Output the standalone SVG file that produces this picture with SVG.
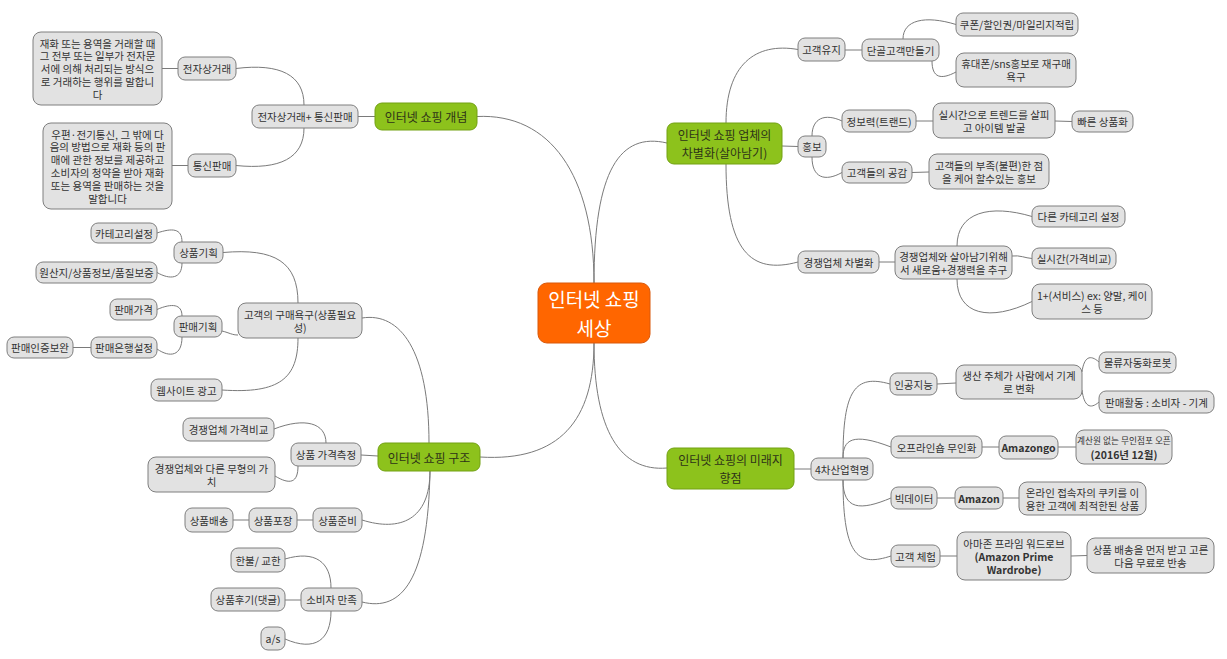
<svg xmlns="http://www.w3.org/2000/svg" width="1227" height="659" viewBox="0 0 1227 659">
<style>
.n rect{fill:#e2e2e2;stroke:#7f7f7f;stroke-width:1}
.g rect{fill:#8dc21c;stroke:#72a113;stroke-width:1}
.c rect{fill:#ff6600;stroke:#d9580a;stroke-width:1}
text{font-family:"Noto Sans CJK KR","Noto Sans",sans-serif;text-anchor:middle;dominant-baseline:central}
.n text{font-size:10.5px;fill:#333}
.g text{font-size:12px;fill:#2e3318}
.c text{font-size:19px;fill:#ffffff}
.b{font-weight:bold}
.s{font-size:8.7px !important}
#links path{fill:none;stroke:#7a7a7a;stroke-width:1}
</style>
<rect width="1227" height="659" fill="#ffffff"/>
<g id="links">
<path d="M594,283 C594,175 550,113 477,116.5"/>
<path d="M594,283 C594,170 620,132 667,143"/>
<path d="M594,343 C594,420 560,462 480,457"/>
<path d="M594,343 C594,430 620,472 667,468"/>
<path d="M358,116.5 L375,116.5"/>
<path d="M304,105 C304,75 280,63 236,68.5"/>
<path d="M304,128 C304,158 280,170 236,165.5"/>
<path d="M178,68.5 L162,68.5"/>
<path d="M188,165.5 L172,165.5"/>
<path d="M362,318 C400,312 429,350 429,443"/>
<path d="M298,303 C298,262 275,248 223,252.5"/>
<path d="M222,331 C230,333 232,335 238,335"/>
<path d="M298,338 C298,378 280,394 222,390"/>
<path d="M182,242 C182,228 172,228 157,233"/>
<path d="M182,263 C182,279 170,280 157,272.5"/>
<path d="M182,316 C182,304 172,303 157,309.5"/>
<path d="M182,337 C182,356 170,358 157,349"/>
<path d="M91,347.5 L73,347.5"/>
<path d="M361,455 L378,456"/>
<path d="M326,443 C326,423 305,417 274,429"/>
<path d="M298,466 C298,483 290,485 275,476"/>
<path d="M430,471 C430,520 400,532 362,520"/>
<path d="M430,471 C428,580 402,612 362,602"/>
<path d="M313,520 L297,520"/>
<path d="M249,520 L233,520"/>
<path d="M331,588 C331,562 315,550 285,559"/>
<path d="M301,600 L285,600"/>
<path d="M331,611 C331,640 315,652 285,639"/>
<path d="M726,123 C726,65 755,42 798,49.5"/>
<path d="M782,146 L798,146.5"/>
<path d="M726,164 C726,250 750,275 798,262"/>
<path d="M845,50 L862,50"/>
<path d="M903,39 C903,20 925,15 956,24.5"/>
<path d="M932,61 C932,78 941,80 956,72"/>
<path d="M812,136 C812,118 825,113 842,121"/>
<path d="M812,157 C812,178 825,182 842,172.5"/>
<path d="M916,121 L933,121"/>
<path d="M1055,121 L1072,121.5"/>
<path d="M912,172.5 L929,172"/>
<path d="M879,262 L895,262"/>
<path d="M957,246 C957,212 990,204 1032,216.5"/>
<path d="M1012,256 C1020,255 1025,258 1032,258.5"/>
<path d="M957,279 C957,315 990,322 1032,301.5"/>
<path d="M794,469 L811,469"/>
<path d="M843,458 C843,390 855,374 890,384"/>
<path d="M843,458 C843,440 852,432 891,447"/>
<path d="M843,480 C843,510 860,511 891,498"/>
<path d="M843,480 C843,560 860,566 891,556"/>
<path d="M937,384 L956,383"/>
<path d="M1082,372 C1084,357 1090,354 1099,362"/>
<path d="M1082,390 C1084,406 1090,410 1099,402"/>
<path d="M982,447 L999,447"/>
<path d="M1058,447 L1076,447"/>
<path d="M937,498 L955,498"/>
<path d="M1003,498 L1019,498"/>
<path d="M940,556 L957,556"/>
<path d="M1071,556 L1087,555.5"/>
</g>
<g id="center" class="c"><rect x="538" y="283" width="112" height="60" rx="9"/><text x="594" y="298.5">인터넷 쇼핑</text><text x="594" y="327.5">세상</text></g>
<g id="b1" class="g"><rect x="375" y="103" width="102" height="27" rx="7"/><text x="426" y="116.5">인터넷 쇼핑 개념</text></g>
<g id="b2" class="g"><rect x="378" y="443" width="102" height="28" rx="7"/><text x="429" y="457">인터넷 쇼핑 구조</text></g>
<g id="b3" class="g"><rect x="667" y="123" width="115" height="41" rx="7"/><text x="724.5" y="134.5">인터넷 쇼핑 업체의</text><text x="724.5" y="152.5">차별화(살아남기)</text></g>
<g id="b4" class="g"><rect x="667" y="448" width="127" height="41" rx="7"/><text x="730.5" y="459.5">인터넷 쇼핑의 미래지</text><text x="730.5" y="477.5">향점</text></g>
<g id="n1" class="n"><rect x="33" y="32" width="129" height="73" rx="8"/><text x="97.5" y="43">재화 또는 용역을 거래할 때</text><text x="97.5" y="55.8">그 전부 또는 일부가 전자문</text><text x="97.5" y="68.5">서에 의해 처리되는 방식으</text><text x="97.5" y="81.3">로 거래하는 행위를 말합니</text><text x="97.5" y="94">다</text></g>
<g id="n2" class="n"><rect x="178" y="57" width="58" height="23" rx="7"/><text x="207" y="68.5">전자상거래</text></g>
<g id="n3" class="n"><rect x="252" y="105" width="106" height="23" rx="7"/><text x="305" y="116.5">전자상거래+ 통신판매</text></g>
<g id="n4" class="n"><rect x="188" y="154" width="48" height="23" rx="7"/><text x="212" y="165.5">통신판매</text></g>
<g id="n5" class="n"><rect x="43" y="123" width="129" height="86" rx="8"/><text x="107.5" y="134">우편·전기통신, 그 밖에 다</text><text x="107.5" y="146.8">음의 방법으로 재화 등의 판</text><text x="107.5" y="159.6">매에 관한 정보를 제공하고</text><text x="107.5" y="172.4">소비자의 청약을 받아 재화</text><text x="107.5" y="185.2">또는 용역을 판매하는 것을</text><text x="107.5" y="198">말합니다</text></g>
<g id="n7" class="n"><rect x="91" y="223" width="66" height="20" rx="7"/><text x="124" y="233">카테고리설정</text></g>
<g id="n8" class="n"><rect x="174" y="242" width="49" height="21" rx="7"/><text x="198.5" y="252.5">상품기획</text></g>
<g id="n9" class="n"><rect x="36" y="262" width="121" height="21" rx="7"/><text x="96.5" y="272.5">원산지/상품정보/품질보증</text></g>
<g id="n10" class="n"><rect x="110" y="299" width="47" height="21" rx="7"/><text x="133.5" y="309.5">판매가격</text></g>
<g id="n11" class="n"><rect x="174" y="316" width="48" height="21" rx="7"/><text x="198" y="326.5">판매기획</text></g>
<g id="n12" class="n"><rect x="91" y="337" width="66" height="21" rx="7"/><text x="124" y="347.5">판매은행설정</text></g>
<g id="n13" class="n"><rect x="7" y="337" width="66" height="21" rx="7"/><text x="40" y="347.5">판매인증보완</text></g>
<g id="n14" class="n"><rect x="151" y="379" width="71" height="22" rx="7"/><text x="186.5" y="390">웹사이트 광고</text></g>
<g id="n15" class="n"><rect x="238" y="303" width="124" height="35" rx="8"/><text x="300" y="314">고객의 구매욕구(상품필요</text><text x="300" y="327">성)</text></g>
<g id="n16" class="n"><rect x="183" y="418" width="91" height="23" rx="7"/><text x="228.5" y="429.5">경쟁업체 가격비교</text></g>
<g id="n17" class="n"><rect x="291" y="443" width="70" height="23" rx="7"/><text x="326" y="454.5">상품 가격측정</text></g>
<g id="n18" class="n"><rect x="148" y="457" width="127" height="35" rx="8"/><text x="211.5" y="468">경쟁업체와 다른 무형의 가</text><text x="211.5" y="481">치</text></g>
<g id="n19" class="n"><rect x="313" y="508" width="49" height="24" rx="7"/><text x="337.5" y="520">상품준비</text></g>
<g id="n20" class="n"><rect x="249" y="508" width="48" height="24" rx="7"/><text x="273" y="520">상품포장</text></g>
<g id="n21" class="n"><rect x="185" y="508" width="48" height="24" rx="7"/><text x="209" y="520">상품배송</text></g>
<g id="n22" class="n"><rect x="231" y="548" width="54" height="24" rx="7"/><text x="258" y="560">한불/ 교한</text></g>
<g id="n23" class="n"><rect x="211" y="588" width="74" height="23" rx="7"/><text x="248" y="599.5">상품후기(댓글)</text></g>
<g id="n24" class="n"><rect x="301" y="588" width="61" height="23" rx="7"/><text x="331.5" y="599.5">소비자 만족</text></g>
<g id="n25" class="n"><rect x="261" y="627" width="24" height="23" rx="7"/><text x="273" y="638.5">a/s</text></g>
<g id="n28" class="n"><rect x="798" y="38" width="47" height="23" rx="7"/><text x="821.5" y="49.5">고객유지</text></g>
<g id="n29" class="n"><rect x="862" y="39" width="77" height="22" rx="7"/><text x="900.5" y="50">단골고객만들기</text></g>
<g id="n30" class="n"><rect x="956" y="13" width="122" height="23" rx="7"/><text x="1017" y="24.5">쿠폰/할인권/마일리지적립</text></g>
<g id="n31" class="n"><rect x="956" y="53" width="120" height="34" rx="8"/><text x="1016" y="63.5">휴대폰/sns홍보로 재구매</text><text x="1016" y="76.5">욕구</text></g>
<g id="n32" class="n"><rect x="798" y="136" width="28" height="21" rx="7"/><text x="812" y="146.5">홍보</text></g>
<g id="n33" class="n"><rect x="842" y="110" width="74" height="22" rx="7"/><text x="879" y="121">정보력(트랜드)</text></g>
<g id="n34" class="n"><rect x="933" y="103" width="122" height="35" rx="8"/><text x="994" y="114">실시간으로 트렌드를 살피</text><text x="994" y="127">고 아이템 발굴</text></g>
<g id="n35" class="n"><rect x="1072" y="111" width="61" height="21" rx="7"/><text x="1102.5" y="121.5">빠른 상품화</text></g>
<g id="n36" class="n"><rect x="842" y="162" width="70" height="21" rx="7"/><text x="877" y="172.5">고객들의 공감</text></g>
<g id="n37" class="n"><rect x="929" y="154" width="120" height="35" rx="8"/><text x="989" y="165">고객들의 부족(불편)한 점</text><text x="989" y="178">을 케어 할수있는 홍보</text></g>
<g id="n38" class="n"><rect x="798" y="251" width="81" height="22" rx="7"/><text x="838.5" y="262">경쟁업체 차별화</text></g>
<g id="n39" class="n"><rect x="895" y="246" width="117" height="33" rx="8"/><text x="953.5" y="256">경쟁업체와 살아남기위해</text><text x="953.5" y="269">서 새로움+경쟁력을 추구</text></g>
<g id="n40" class="n"><rect x="1032" y="206" width="93" height="21" rx="7"/><text x="1078.5" y="216.5">다른 카테고리 설정</text></g>
<g id="n41" class="n"><rect x="1032" y="248" width="84" height="21" rx="7"/><text x="1074" y="258.5">실시간(가격비교)</text></g>
<g id="n42" class="n"><rect x="1032" y="284" width="120" height="35" rx="8"/><text x="1092" y="295">1+(서비스) ex: 양말, 케이</text><text x="1092" y="308">스 등</text></g>
<g id="n44" class="n"><rect x="811" y="458" width="62" height="22" rx="7"/><text x="842" y="469">4차산업혁명</text></g>
<g id="n45" class="n"><rect x="890" y="373" width="47" height="22" rx="7"/><text x="913.5" y="384">인공지능</text></g>
<g id="n46" class="n"><rect x="956" y="365" width="126" height="34" rx="8"/><text x="1019" y="375.5">생산 주체가 사람에서 기계</text><text x="1019" y="388.5">로 변화</text></g>
<g id="n47" class="n"><rect x="1099" y="352" width="77" height="21" rx="7"/><text x="1137.5" y="362.5">물류자동화로봇</text></g>
<g id="n48" class="n"><rect x="1099" y="391" width="115" height="22" rx="7"/><text x="1156.5" y="402">판매활동 : 소비자 - 기계</text></g>
<g id="n49" class="n"><rect x="891" y="436" width="91" height="22" rx="7"/><text x="936.5" y="447">오프라인숍 무인화</text></g>
<g id="n50" class="n"><rect x="999" y="436" width="59" height="23" rx="7"/><text class="b" x="1028.5" y="447.5">Amazongo</text></g>
<g id="n51" class="n"><rect x="1076" y="430" width="96" height="34" rx="8"/><text class="s" x="1124" y="440.5">계산원 없는 무인점포 오픈</text><text class="b" x="1124" y="454">(2016년 12월)</text></g>
<g id="n52" class="n"><rect x="891" y="487" width="46" height="22" rx="7"/><text x="914" y="498">빅데이터</text></g>
<g id="n53" class="n"><rect x="955" y="487" width="48" height="22" rx="7"/><text class="b" x="979" y="498">Amazon</text></g>
<g id="n54" class="n"><rect x="1019" y="482" width="127" height="33" rx="8"/><text x="1082.5" y="492">온라인 접속자의 쿠키를 이</text><text x="1082.5" y="505">용한 고객에 최적한된 상품</text></g>
<g id="n55" class="n"><rect x="891" y="545" width="49" height="22" rx="7"/><text x="915.5" y="556">고객 체험</text></g>
<g id="n56" class="n"><rect x="957" y="532" width="114" height="48" rx="8"/><text x="1014" y="543">아마존 프라임 워드로브</text><text class="b" x="1014" y="556">(Amazon Prime</text><text class="b" x="1014" y="569">Wardrobe)</text></g>
<g id="n57" class="n"><rect x="1087" y="538" width="127" height="35" rx="8"/><text x="1150.5" y="549">상품 배송을 먼저 받고 고른</text><text x="1150.5" y="562">다음 무료로 반송</text></g>
</svg>
